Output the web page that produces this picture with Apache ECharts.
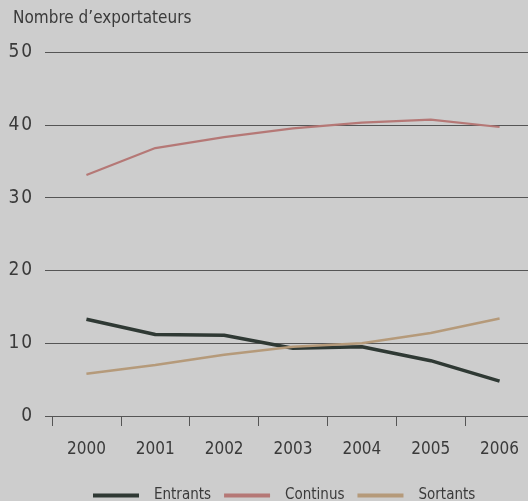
<!DOCTYPE html>
<html>
<head>
<meta charset="utf-8">
<script src="https://cdn.jsdelivr.net/npm/echarts@6/dist/echarts.min.js"></script>
<style>
html,body{margin:0;padding:0;background:#cdcdcd;}
#c{width:528px;height:501px;}
</style>
</head>
<body>
<div id="c"></div>
<script>
const years = ['2000','2001','2002','2003','2004','2005','2006'];
const entrants = [13.3, 11.2, 11.1, 9.3, 9.5, 7.6, 4.8];
const continus = [33.1, 36.8, 38.3, 39.5, 40.3, 40.7, 39.7];
const sortants = [5.8, 7.0, 8.4, 9.5, 10.0, 11.4, 13.4];
const yTicks = [0, 10, 20, 30, 40, 50];

const FONT = "'Liberation Sans Narrow', 'DejaVu Sans Condensed', 'Liberation Sans', sans-serif";
const TXT = '#3a3a3a';

const chart = echarts.init(document.getElementById('c'), null, {renderer:'canvas'});
chart.setOption({
  backgroundColor: '#cdcdcd',
  animation: false,
  title: {
    text: 'Nombre d\u2019exportateurs',
    left: 8, top: 5,
    textStyle: {fontFamily: FONT, fontSize: 17, fontWeight: 'normal', color: TXT}
  },
  legend: {
    bottom: -7, left: 88,
    icon: 'rect', itemWidth: 46, itemHeight: 4, itemGap: 13,
    textStyle: {fontFamily: FONT, fontSize: 15, color: TXT, padding: [0,0,0,10]},
    data: ['Entrants','Continus','Sortants']
  },
  grid: [
    {left: 45, right: 0, top: 52, bottom: 85, outerBoundsMode: 'none'},
    {left: 52, width: 482, top: 52, bottom: 85, outerBoundsMode: 'none'}
  ],
  xAxis: [
    {type: 'category', gridIndex: 0, data: years, axisLine: {show: false}, axisTick: {show: false}, axisLabel: {show: false}},
    {type: 'category', gridIndex: 1, data: years, boundaryGap: true,
     axisLine: {show: false},
     axisTick: {show: true, length: 10, lineStyle: {color: '#555', width: 1}},
     axisLabel: {fontFamily: FONT, fontSize: 17, color: TXT, margin: 25}}
  ],
  yAxis: [
    {type: 'value', gridIndex: 0, min: yTicks[0], max: yTicks[yTicks.length-1], interval: 10,
     axisLine: {show: false}, axisTick: {show: false},
     axisLabel: {fontFamily: FONT, fontSize: 19, color: TXT, margin: 13,
                 formatter: v => String(v).split('').join('\u200A')},
     splitLine: {show: true, lineStyle: {color: '#555', width: 1}}},
    {type: 'value', gridIndex: 1, min: 0, max: 50, show: false, splitLine: {show: false}}
  ],
  series: [
    {name: 'Entrants', type: 'line', xAxisIndex: 1, yAxisIndex: 1, data: entrants, symbol: 'none',
     lineStyle: {color: '#2f3934', width: 3.5}, itemStyle: {color: '#2f3934'}},
    {name: 'Continus', type: 'line', xAxisIndex: 1, yAxisIndex: 1, data: continus, symbol: 'none',
     lineStyle: {color: '#b57876', width: 2.2}, itemStyle: {color: '#b57876'}},
    {name: 'Sortants', type: 'line', xAxisIndex: 1, yAxisIndex: 1, data: sortants, symbol: 'none',
     lineStyle: {color: '#b59a7a', width: 2.5}, itemStyle: {color: '#b59a7a'}}
  ]
});
</script>
</body>
</html>
